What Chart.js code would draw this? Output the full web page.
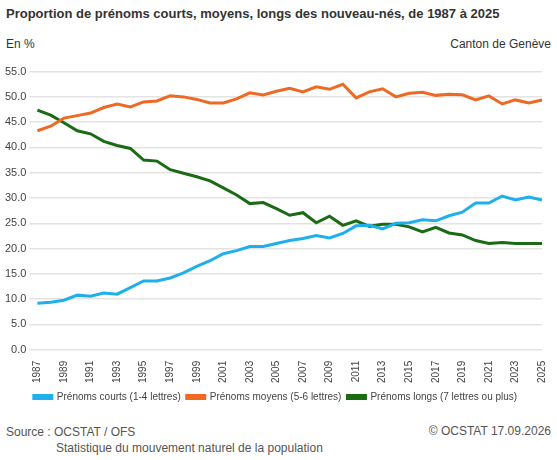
<!DOCTYPE html>
<html lang="fr">
<head>
<meta charset="UTF-8">
<script src="https://cdn.jsdelivr.net/npm/chart.js"></script>
<style>
  * { margin: 0; padding: 0; box-sizing: border-box; }
  body { width: 557px; height: 460px; background: #fff; font-family: 'Liberation Sans', Arial, sans-serif; color: #333; position: relative; overflow: hidden; }
  .title { position: absolute; left: 6px; top: 6px; font-size: 13px; font-weight: bold; color: #333; }
  .unit { position: absolute; left: 6px; top: 37px; font-size: 12px; }
  .canton { position: absolute; right: 6px; top: 37px; font-size: 12px; }
  .chart { position: absolute; left: 0; top: 62px; width: 557px; height: 350px; }
  .src { position: absolute; left: 6px; top: 424px; font-size: 12px; color: #555; line-height: 16px; }
  .src span { display: block; padding-left: 50px; }
  .copy { position: absolute; right: 6px; top: 424px; font-size: 12px; color: #555; }
</style>
</head>
<body>
<div class="title">Proportion de prénoms courts, moyens, longs des nouveau-nés, de 1987 à 2025</div>
<div class="unit">En %</div>
<div class="canton">Canton de Genève</div>
<div class="chart"><canvas id="c"></canvas></div>
<div class="src">Source : OCSTAT / OFS<span>Statistique du mouvement naturel de la population</span></div>
<div class="copy">© OCSTAT 17.09.2026</div>
<script>
const years = [];
for (let y = 1987; y <= 2025; y++) years.push(String(y));
const courts = [9.2, 9.4, 9.8, 10.8, 10.6, 11.2, 11.0, 12.3, 13.6, 13.6, 14.2, 15.2, 16.5, 17.6, 19.0, 19.6, 20.4, 20.4, 21.0, 21.6, 22.0, 22.6, 22.1, 23.0, 24.5, 24.6, 23.9, 25.0, 25.1, 25.7, 25.5, 26.5, 27.2, 29.0, 29.0, 30.4, 29.6, 30.2, 29.6];
const moyens = [43.3, 44.2, 45.8, 46.3, 46.8, 47.9, 48.6, 48.0, 49.0, 49.2, 50.2, 50.0, 49.5, 48.8, 48.8, 49.6, 50.8, 50.4, 51.1, 51.7, 51.0, 52.0, 51.5, 52.5, 49.8, 51.0, 51.6, 50.0, 50.7, 50.9, 50.3, 50.5, 50.4, 49.4, 50.2, 48.6, 49.4, 48.8, 49.4];
const longs = [47.4, 46.4, 44.9, 43.3, 42.7, 41.2, 40.4, 39.8, 37.5, 37.3, 35.6, 34.9, 34.2, 33.4, 32.0, 30.6, 28.9, 29.1, 27.9, 26.6, 27.1, 25.1, 26.4, 24.6, 25.5, 24.4, 24.8, 24.8, 24.3, 23.3, 24.2, 23.1, 22.7, 21.6, 21.0, 21.2, 21.0, 21.0, 21.0];

const line = (label, data, color) => ({
  label, data, borderColor: color, backgroundColor: color,
  borderWidth: 3, pointRadius: 0, tension: 0
});

new Chart(document.getElementById('c'), {
  type: 'line',
  data: {
    labels: years,
    datasets: [
      line('Prénoms courts (1-4 lettres)', courts, '#1fb0ec'),
      line('Prénoms moyens (5-6 lettres)', moyens, '#ee6a24'),
      line('Prénoms longs (7 lettres ou plus)', longs, '#1a6b14')
    ]
  },
  options: {
    responsive: true, maintainAspectRatio: false, animation: false,
    layout: { padding: { left: 2, right: 8, top: 0 } },
    plugins: {
      legend: {
        position: 'bottom',
        labels: { boxWidth: 18, boxHeight: 3, color: '#444', font: { size: 10, family: 'Liberation Sans' }, padding: 6 }
      },
      tooltip: { enabled: false }
    },
    scales: {
      x: {
        grid: { display: false },
        border: { display: false },
        ticks: { color: '#444', autoSkip: false, maxRotation: 90, minRotation: 90, font: { size: 10, family: 'Liberation Sans' },
          callback: (v, i) => i % 2 === 0 ? years[i] : '' }
      },
      y: {
        min: 0, max: 55,
        grid: { color: '#e3e3e3', lineWidth: 1.5 },
        border: { display: false },
        ticks: { stepSize: 5, color: '#444', font: { size: 11, family: 'Liberation Sans' }, callback: v => v.toFixed(1) }
      }
    }
  }
});
</script>
</body>
</html>
